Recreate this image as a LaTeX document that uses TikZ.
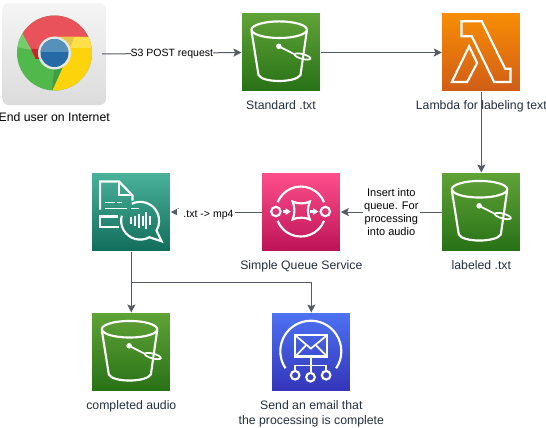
\documentclass[tikz,border=0pt]{standalone}
\usepackage{fontspec}
\setmainfont{Liberation Sans}
\usepackage{xcolor}
\usetikzlibrary{arrows.meta, positioning}

\definecolor{inkgray}{HTML}{545B64}
\definecolor{labelink}{HTML}{232F3E}

\begin{document}
\begin{tikzpicture}[
    x=0.75pt, y=-0.75pt,
    node distance=60.4pt and 75.75pt,
    every node/.style={font=\fontsize{9.2pt}{11pt}\selectfont, outer sep=0pt},
    service/.style={rectangle, draw=white, line width=0.75pt, minimum size=59.25pt, inner sep=0pt},
    caption/.style={text=labelink, align=center, inner sep=0pt, text height=7pt, text depth=2pt},
    edgelabel/.style={fill=white, inner sep=1pt, align=center, font=\fontsize{8.25pt}{9.75pt}\selectfont},
    arrow/.style={-{Stealth[length=6pt, width=6pt, inset=1.2pt]}, draw=inkgray, line width=0.75pt},
    iconline/.style={draw=white, line width=1.6pt, line join=miter},
    iconthin/.style={draw=white, line width=1.3pt},
    bucketicon/.pic={
        \draw[iconline] (37.7,16.7) ellipse[x radius=27.7, y radius=8.3];
        \draw[iconline] (10,18) -- (17,62) .. controls (21,70) and (54,70) .. (59,62) -- (65.3,18);
        \fill[white] (37.3,33.3) circle[radius=2.8];
        \draw[iconthin] (37.3,33.3) -- (53.5,41.5);
        \draw[iconthin, rotate around={-15:(61,43.5)}] (61,43.5) ellipse[x radius=8.2, y radius=2.4];
    },
    lambdaicon/.pic={
        \draw[iconline] (19.7,8.3) -- (40,8.3) -- (63.3,55.7) -- (68.7,55.7) -- (68.7,69) -- (52.3,69) -- (30,23.3) -- (19.7,23.3) -- cycle;
        \draw[iconline] (27.3,33.3) -- (35.3,50) -- (25.3,69) -- (10,69) -- cycle;
    },
    queueicon/.pic={
        \draw[iconline] (39,39) ++(201.8:25) arc[start angle=201.8, end angle=338.2, radius=25];
        \draw[iconline] (39,39) ++(158.2:25) arc[start angle=158.2, end angle=21.8, radius=25];
        \draw[iconline] (14,39) circle[radius=4.7];
        \draw[iconline] (63.5,39) circle[radius=4.7];
        \draw[iconline, -{Stealth[length=4pt, width=5pt, inset=0pt]}] (21,39) -- (29,39);
        \draw[iconline, -{Stealth[length=4pt, width=5pt, inset=0pt]}] (48.5,39) -- (56.5,39);
        \draw[iconline] (30.7,29) .. controls (36,31.5) and (42.5,31.5) .. (48,29)
            .. controls (45.5,34.5) and (45.5,41.5) .. (48,47)
            .. controls (42.5,44.5) and (36,44.5) .. (30.7,47)
            .. controls (33.2,41.5) and (33.2,34.5) .. (30.7,29) -- cycle;
    },
    speechicon/.pic={
        \draw[iconline] (8.3,37) -- (8.3,9) -- (27.3,9) -- (40.7,23) -- (40.7,28);
        \draw[iconline] (27.3,9) -- (27.3,22.3) -- (40.7,22.3);
        \draw[iconline] (25.7,44) -- (8.3,44) -- (8.3,54.7) -- (27.3,54.7);
        \draw[iconthin] (12.7,30) -- (22.7,30) (25,30) -- (30,30);
        \draw[iconthin] (12.7,36) -- (35.5,36) (39,36) -- (47,36);
        \draw[iconline] (48.3,48.3) ++(244:19) arc[start angle=244, end angle=390.6, radius=19]
            -- (69.7,68.7) -- (57.5,64.7) arc[start angle=61, end angle=195, radius=19];
        \foreach \barx/\barh in {39.3/3.5, 42.8/5, 47.5/7, 51/5, 54.5/8.5, 58.3/4.5}
            \draw[iconthin] (\barx,48.3-\barh) -- (\barx,48.3+\barh);
    },
    mailicon/.pic={
        \draw[iconline] (39,38.7) ++(146:30.5) arc[start angle=146, end angle=394, radius=30.5];
        \draw[iconline] (23.3,22.7) rectangle (55.3,44);
        \draw[iconthin] (23.3,22.7) -- (39,36) -- (55.3,22.7);
        \draw[iconthin] (23.3,44) -- (34,33) (55.3,44) -- (44.3,33);
        \draw[iconthin] (39,44) -- (39,60.4);
        \draw[iconthin] (23.3,58.4) -- (23.3,53) -- (54.3,53) -- (54.3,58.4);
        \foreach \dotx/\doty in {23.3/62.7, 38.7/64.7, 54.3/62.7}
            \draw[iconline] (\dotx,\doty) circle[radius=4.3];
    },
    browsericon/.pic={
        \begin{scope}
            \clip (0.3,-1) circle[radius=37.5];
            \fill[color={rgb,255:red,81;green,184;blue,75}] (-45,-45) rectangle (45,45);
            \fill[color={rgb,255:red,233;green,82;blue,90}] (-36,-28.7) -- (-18.5,5) -- (0,-17) -- (45,-17) -- (45,-50) -- (-36,-50) -- cycle;
            \fill[color={rgb,255:red,253;green,211;blue,11}] (0,-17) -- (45,-17) -- (45,50) -- (-5.5,44) -- (10.5,8.7) -- cycle;
            \fill[color={rgb,255:red,255;green,224;blue,74}] (6,-17) -- (45,-17) -- (45,-6) -- (14,-6) -- cycle;
            \fill[color={rgb,255:red,229;green,196;blue,70}] (6,-17) -- (20,-17) -- (16,-6) -- (14,-6) -- cycle;
            \fill[color={rgb,255:red,118;green,204;blue,108}] (-33,-23) -- (-42,-8) -- (-23,-4) -- cycle;
            \fill[color={rgb,255:red,197;green,38;blue,46}] (-23,-5) -- (-12,-5) -- (-15,5) -- (-18.5,5) -- cycle;
            \fill[color={rgb,255:red,63;green,158;blue,68}] (-2.5,37.5) -- (10.5,8.7) -- (0,16) -- cycle;
        \end{scope}
        \fill[color={rgb,255:red,230;green,232;blue,232}] (0.3,-1) circle[radius=16.5];
        \fill[color={rgb,255:red,37;green,105;blue,165}] (0.3,-1) circle[radius=14];
        \fill[color={rgb,255:red,86;green,145;blue,187}] (-13.7,-2) arc[start angle=184, end angle=356, radius=14] -- cycle;
    },
]

\useasboundingbox (0,0) rectangle (546,428);

\node[rectangle, rounded corners=4.5pt, minimum width=77.25pt, minimum height=76.5pt, inner sep=0pt,
      top color=white!96!black, bottom color=white!86!black] (browser) at (54.2,54) {};
\node[service, top color={rgb,255:red,96;green,163;blue,55}, bottom color={rgb,255:red,39;green,113;blue,22}] (standard) at (281,52.5) {};
\node[service, top color={rgb,255:red,247;green,142;blue,4}, bottom color={rgb,255:red,208;green,92;blue,23}, right=91pt of standard] (lambda) {};
\node[service, top color={rgb,255:red,96;green,163;blue,55}, bottom color={rgb,255:red,39;green,113;blue,22}, below=of lambda] (labeled) {};
\node[service, top color={rgb,255:red,255;green,79;blue,139}, bottom color={rgb,255:red,188;green,19;blue,86}, left=of labeled] (queue) {};
\node[service, top color={rgb,255:red,74;green,178;blue,154}, bottom color={rgb,255:red,17;green,109;blue,91}, left=68.25pt of queue] (speech) {};
\node[service, top color={rgb,255:red,96;green,163;blue,55}, bottom color={rgb,255:red,39;green,113;blue,22}, below=45.75pt of speech] (completed) {};
\node[service, top color={rgb,255:red,77;green,114;blue,243}, bottom color={rgb,255:red,51;green,52;blue,185}, right=of completed] (mail) {};

\pic at (browser.center) {browsericon};
\pic at (standard.north west) {bucketicon};
\pic at (lambda.north west) {lambdaicon};
\pic at (labeled.north west) {bucketicon};
\pic at (queue.north west) {queueicon};
\pic at (speech.north west) {speechicon};
\pic at (completed.north west) {bucketicon};
\pic at (mail.north west) {mailicon};

\node[caption, text=black, below=5.5pt of browser] (browsertext) {End user on Internet};
\node[caption, below=6.2pt of standard] (standardtext) {Standard .txt};
\node[caption, below=6.2pt of lambda] (lambdatext) {Lambda for labeling text};
\node[caption, below=6.2pt of labeled] (labeledtext) {labeled .txt};
\node[caption, below=6.2pt of queue] (queuetext) {Simple Queue Service};
\node[caption, below=6.2pt of completed] (completedtext) {completed audio};
\node[caption, text height=18.25pt, text depth=2pt, below=6.2pt of mail, font=\fontsize{9.2pt}{11.25pt}\selectfont] (mailtext) {Send an email that\\the processing is complete};

\draw[arrow] ([xshift=-2.7pt]browser.east) -- node[edgelabel, inner sep=0pt, yshift=-0.7pt, font=\fontsize{7.9pt}{9.75pt}\selectfont] (posttext) {S3 POST request} (standard.west);
\draw[arrow] (standard) -- (lambda);
\draw[arrow] (lambda) -- (labeled);
\draw[arrow] (labeled) -- node[edgelabel] (inserttext) {Insert into\\queue. For\\processing\\into audio} (queue);
\draw[arrow] (queue) -- node[edgelabel, xshift=-7.9pt, yshift=-2.5pt, font=\fontsize{7.9pt}{9.75pt}\selectfont] (mp4text) {\hspace*{4pt}.txt -> mp4} (speech);
\draw[arrow] (speech) -- (completed);
\draw[arrow] (speech.south) -- ++(0,30.5) -| (mail.north);

\end{tikzpicture}
\end{document}
